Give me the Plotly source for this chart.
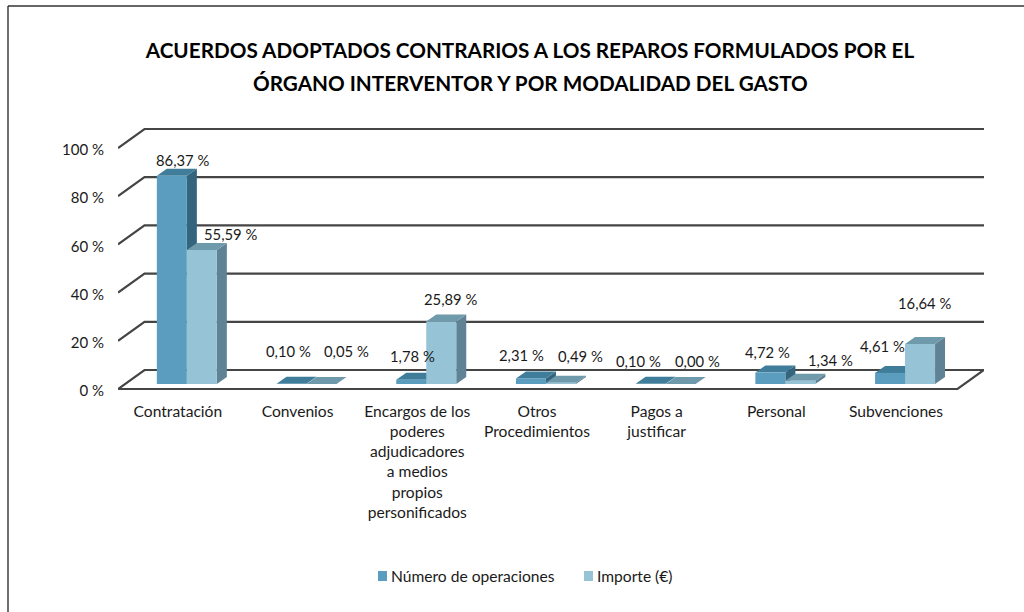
import plotly.graph_objects as go

# ---- data ----
categories = ["Contratación", "Convenios",
              "Encargos de los<br>poderes<br>adjudicadores<br>a medios<br>propios<br>personificados",
              "Otros<br>Procedimientos", "Pagos a<br>justificar", "Personal", "Subvenciones"]
operaciones = [86.37, 0.10, 1.78, 2.31, 0.10, 4.72, 4.61]
importe = [55.59, 0.05, 25.89, 0.49, 0.00, 1.34, 16.64]
series_names = ["Número de operaciones", "Importe (€)"]
y_ticks = [0, 20, 40, 60, 80, 100]

# ---- label nudges in pixels, relative to the top centre of each bar front ----
nudge_ops = [(11, 16), (-3, 33), (1, 24), (-9, 23), (-12, 23), (-3, 21), (-8, 27)]
nudge_imp = [(29, 16), (25, 33), (9, 23), (20, 27), (17, 23), (30, 21), (4, 41)]

# ---- geometry ----
W, H = 1024, 612
L, R, T, ZERO = 118, 984, 120, 389
B = ZERO + 2
PX_X = 119.7
PX_Y = 2.41
xmax = (R - L) / PX_X
ymin = -(B - ZERO) / PX_Y
ymax = (ZERO - T) / PX_Y
floor_dx, floor_dy = 26.5 / PX_X, 19 / PX_Y
bar_w = 30 / PX_X
front_dx, front_dy = 9 / PX_X, 5 / PX_Y
depth_dx, depth_dy = 10 / PX_X, 7 / PX_Y
tick_label_drop = 2 / PX_Y
grid_color = "#454545"
faces = [("#5b9dbf", "#3f7d9a", "#33667e"), ("#97c3d6", "#6f9aac", "#5f8294")]
FONT = "Lato"
TEXT = "#1a1a1a"


def px(xp):
    return (xp - L) / (R - L)


def py(yp):
    return (B - yp) / (B - T)


fig = go.Figure()

# walls and floor
gx, gy = [], []
for v in y_ticks:
    gx += [0, floor_dx, xmax, None]
    gy += [v, v + floor_dy, v + floor_dy, None]
gx += [0, xmax - floor_dx, xmax]
gy += [0, 0, floor_dy]
fig.add_trace(go.Scatter(x=gx, y=gy, mode="lines", hoverinfo="skip", showlegend=False,
                         line=dict(color=grid_color, width=2.2)))


def poly(xs, ys, color, name):
    fig.add_trace(go.Scatter(x=xs, y=ys, mode="lines", fill="toself", fillcolor=color, name=name,
                             line=dict(width=0, color=color), hoverinfo="skip", showlegend=False))


annotations = []
for j in range(len(categories)):
    for s, values in enumerate((operaciones, importe)):
        v = values[j]
        front, top, side = faces[s]
        x0 = j + 0.5 + front_dx + (s - 1) * bar_w
        x1 = x0 + bar_w
        y0 = front_dy
        y1 = front_dy + v
        poly([x1, x1 + depth_dx, x1 + depth_dx, x1, x1], [y0, y0 + depth_dy, y1 + depth_dy, y1, y0], side, series_names[s])
        poly([x0, x0 + depth_dx, x1 + depth_dx, x1, x0], [y1, y1 + depth_dy, y1 + depth_dy, y1, y1], top, series_names[s])
        poly([x0, x1, x1, x0, x0], [y0, y0, y1, y1, y0], front, series_names[s])
        dx, dy = (nudge_ops if s == 0 else nudge_imp)[j]
        annotations.append(dict(x=(x0 + x1) / 2, y=y1, xref="x", yref="y", xshift=dx, yshift=dy,
                                text=f"{v:.2f} %".replace(".", ","), showarrow=False,
                                font=dict(family=FONT, size=14.8, color=TEXT)))

annotations.append(dict(x=px(530), y=py(83), xref="paper", yref="paper", xanchor="center", yanchor="middle",
                        text="ÓRGANO INTERVENTOR Y POR MODALIDAD DEL GASTO", showarrow=False,
                        font=dict(family=FONT, size=20.7, color="#000000", weight="bold")))

# frame: only the top and left edges of the chart box are visible
shapes = [
    dict(type="line", xref="paper", yref="paper", x0=px(8), x1=px(W), y0=py(6), y1=py(6),
         line=dict(color="#333333", width=1.3), layer="below"),
    dict(type="line", xref="paper", yref="paper", x0=px(8), x1=px(8), y0=py(6), y1=py(H),
         line=dict(color="#222222", width=1.3), layer="below"),
]

# legend: keys and names
for s, (key_x, text_x) in enumerate([(378, 389), (584, 595)]):
    shapes.append(dict(type="rect", xref="paper", yref="paper", x0=px(key_x), x1=px(key_x + 9),
                       y0=py(581), y1=py(571), line=dict(width=0), fillcolor=faces[s][0]))
    annotations.append(dict(x=px(text_x), y=py(576), xref="paper", yref="paper", xanchor="left", yanchor="middle",
                            text=series_names[s], showarrow=False,
                            font=dict(family=FONT, size=15.6, color=TEXT)))

fig.update_layout(
    width=W, height=H, autosize=False,
    margin=dict(l=L, r=W - R, t=T, b=H - B, pad=0),
    paper_bgcolor="white", plot_bgcolor="white",
    title=dict(text="ACUERDOS ADOPTADOS CONTRARIOS A LOS REPAROS FORMULADOS POR EL",
               x=530 / W, xanchor="center", y=1 - 51 / H, yanchor="middle",
               font=dict(family=FONT, size=20.7, color="#000000", weight="bold")),
    xaxis=dict(range=[0, xmax], tickmode="array", tickvals=[j + 0.5 for j in range(len(categories))],
               ticktext=categories, showgrid=False, zeroline=False, showline=False, ticks="",
               tickangle=0, ticklabelstandoff=9, tickfont=dict(family=FONT, size=15.6, color=TEXT)),
    yaxis=dict(range=[ymin, ymax], tickmode="array",
               tickvals=[v - tick_label_drop for v in y_ticks],
               ticktext=[f"{v} %" for v in y_ticks],
               showgrid=False, zeroline=False, showline=False, ticks="",
               ticklabelstandoff=13, tickfont=dict(family=FONT, size=15, color=TEXT)),
    annotations=annotations,
    shapes=shapes,
    showlegend=False,
)

fig.write_html("out.html", config={"displayModeBar": False},
               post_script="document.body.style.margin='0';")
